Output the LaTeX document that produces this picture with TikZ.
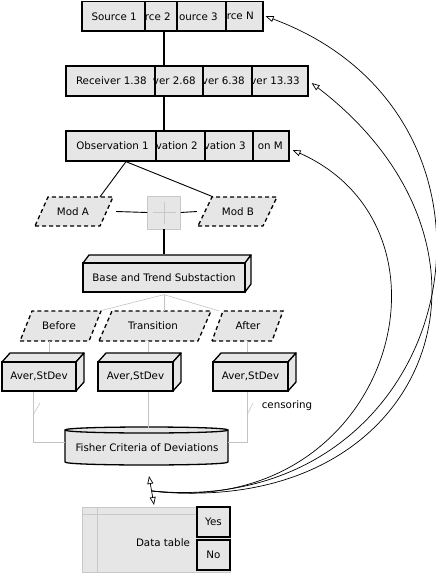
\documentclass[tikz,border=0pt]{standalone}
\usepackage{fontspec}
\setmainfont{DejaVu Sans}
\usetikzlibrary{arrows.meta}
\definecolor{boxfill}{RGB}{230,230,230}
\definecolor{thinline}{RGB}{195,195,195}
\definecolor{tableline}{RGB}{200,200,200}
\definecolor{plusline}{RGB}{200,200,200}
\tikzset{
  txt/.style={font=\fontsize{10.3}{12}\selectfont, inner sep=0pt, text=black},
  cellbox/.style={draw=black, line width=1.3pt, fill=boxfill, inner sep=0pt, rectangle},
  dashpara/.style={draw=black, line width=1.3pt, fill=boxfill, dash pattern=on 4pt off 3pt},
  cubeface/.style={draw=black, line width=1.3pt, fill=boxfill, line join=round},
  conn/.style={draw=black, line width=1.3pt},
  thinconn/.style={draw=thinline, line width=0.6pt},
  curvearrow/.style={draw=black, line width=0.7pt, -{Triangle[open,length=8pt,width=6pt]}},
}
\newcommand\mycell[7]{%
  \node[cellbox, minimum width={#3-#2}, minimum height={#5-#4}] (#1) at ({(#2+#3)/2},{(#4+#5)/2}) {};
  \node[txt, anchor=east] (#1t) at (#7,{(#4+#5)/2}) {#6};
}
\newcommand\mycube[8]{%
  \path[cubeface] (#2,#4) -- ({#2+#6},{#4-#7}) -- ({#3+#6},{#4-#7}) -- (#3,#4) -- cycle;
  \path[cubeface] (#3,#4) -- ({#3+#6},{#4-#7}) -- ({#3+#6},{#5-#7}) -- (#3,#5) -- cycle;
  \node[cellbox, minimum width={#3-#2}, minimum height={#5-#4}] (#1) at ({(#2+#3)/2},{(#4+#5)/2}) {};
  \node[txt] (#1t) at (#1) {#8};
}
% name, xBL, xBR, yTop, yBot, slant, text, textx
\newcommand\mypara[8]{%
  \path[dashpara] (#2,#5) -- (#3,#5) -- ({#3+#6},#4) -- ({#2+#6},#4) -- cycle;
  \node[txt, minimum width={#3+#6-#2}, minimum height={#5-#4}] (#1) at ({(#2+#3+#6)/2},{(#4+#5)/2}) {};
  \node[txt] (#1t) at (#8,{(#4+#5)/2}) {#7};
}
\begin{document}
\begin{tikzpicture}[x=1pt,y=-1pt]
\useasboundingbox (0,0) rectangle (436,573);
\coordinate (spine) at (164,0);

% Source row
\mycell{src1}{82}{145}{1.5}{31}{Source 1}{137}
\mycell{src2}{145}{177}{1.5}{31}{rce 2}{171}
\mycell{src3}{177}{226}{1.5}{31}{ource 3}{218}
\mycell{srcN}{226}{263}{1.5}{31}{rce N}{254}

% Receiver row
\mycell{rec1}{66}{155}{66}{96}{Receiver 1.38}{147}
\mycell{rec2}{155}{203}{66}{96}{ver 2.68}{196}
\mycell{rec3}{203}{252}{66}{96}{ver 6.38}{245}
\mycell{rec4}{252}{308}{66}{96}{ver 13.33}{300}

% Observation row
\mycell{obs1}{66}{156}{131}{161}{Observation 1}{149}
\mycell{obs2}{156}{205}{131}{161}{vation 2}{198}
\mycell{obs3}{205}{253}{131}{161}{vation 3}{246}
\mycell{obs4}{253}{289}{131}{161}{on M}{283}

\draw[conn] (src2.south -| spine) -- (rec2.north -| spine);
\draw[conn] (rec2.south -| spine) -- (obs2.north -| spine);

% Mods
\mypara{modA}{35}{100}{197}{226}{13}{Mod A}{73}
\mypara{modB}{198}{263}{197}{226}{14}{Mod B}{238}
\draw[line width=0.9pt] ([xshift=15pt]obs1.south) -- ([xshift=26pt]modA.north);
\draw[line width=0.9pt] ([xshift=15pt]obs1.south) -- ([xshift=-24.5pt]modB.north);

% plus junction
\node[draw=plusline, fill=boxfill, line width=0.5pt, minimum width=33pt, minimum height=33pt, inner sep=0pt] (plus) at (164,212.5) {};
\draw[plusline, line width=0.6pt] ([xshift=-11.5pt]plus.center) -- ([xshift=11.5pt]plus.center);
\draw[plusline, line width=0.6pt] ([yshift=-11pt]plus.center) -- ([yshift=11pt]plus.center);
\draw[line width=0.9pt] ([xshift=3pt]modA.east) -- (plus.west);
\draw[line width=0.9pt] (plus.east) -- ([xshift=-1pt]modB.west);

% Base and Trend
\mycube{base}{83}{245}{263}{292}{6}{8}{Base and Trend Substaction}
\draw[conn] (plus.south) -- ([yshift=8pt]base.north -| spine);

% phases
\mypara{before}{20}{89}{311}{341}{12}{Before}{59}
\mypara{trans}{99}{198}{311}{341}{13}{Transition}{153}
\mypara{after}{212}{272}{311}{341}{11}{After}{248}
\coordinate (bsplit) at ([yshift=-2pt]base.south -| spine);
\draw[thinconn] (bsplit) -- ([xshift=-1pt]before.north east);
\draw[thinconn] (bsplit) -- (trans.north -| spine);
\draw[thinconn] (bsplit) -- ([xshift=7pt]after.north west);

% Aver boxes
\mycube{av1}{2}{76}{362}{391}{8}{9}{Aver,StDev}
\mycube{av2}{98}{173}{362}{391}{8}{9}{Aver,StDev}
\mycube{av3}{213}{288}{362}{391}{8}{9}{Aver,StDev}
\draw[thinconn] (before.south -| 49,0) -- ([yshift=9pt]av1.north -| 49,0);
\draw[thinconn] (trans.south -| 148,0) -- ([yshift=9pt]av2.north -| 148,0);
\draw[thinconn] (after.south -| 247,0) -- ([yshift=9pt]av3.north -| 247,0);

% Fisher cylinder
\path[cubeface] (65,430) -- (65,462) .. controls (65,466) and (228,466) .. (228,462) -- (228,430) -- cycle;
\path[cubeface] (65,430) .. controls (65,426) and (228,426) .. (228,430) .. controls (228,434) and (65,434) .. (65,430) -- cycle;
\node[txt, minimum width=163pt, minimum height=38pt] (fisher) at (146.5,446) {};
\node[txt] (fishert) at (147,448) {Fisher Criteria of Deviations};

% lines into Fisher with switches
\draw[thinconn] (av1.south -| 33,0) -- (33,442) -- (fisher.west |- 0,442);
\draw[thinconn] (33,415) -- (40,403);
\draw[thinconn] (av2.south -| 148,0) -- ([yshift=-1pt]fisher.north -| 148,0);
\draw[thinconn] (av3.south -| 247,0) -- (247,442) -- (fisher.east |- 0,442);
\draw[thinconn] (247,415) -- (253,403);
\node[txt] (cens) at (287,406) {censoring};

% Data table
\node[draw=tableline, fill=boxfill, line width=0.6pt, minimum width=148pt, minimum height=65pt, inner sep=0pt] (table) at (156,539.5) {};
\draw[tableline, line width=0.6pt] (table.north west |- 0,514) -- (197,514);
\draw[tableline, line width=0.6pt] (97,507) -- (97,572);
\node[txt] (tablet) at (163,543) {Data table};
\node[cellbox, minimum width=33pt, minimum height=30pt] (yes) at (213.5,522) {};
\node[txt] (yest) at (yes) {Yes};
\node[cellbox, minimum width=33pt, minimum height=30pt] (no) at (213.5,555) {};
\node[txt] (not) at (no) {No};

% double arrow and curves
\coordinate (dtop) at (149,476);
\coordinate (dbot) at (154,505);
\coordinate (hub) at (152,491);
\draw[line width=0.7pt, {Triangle[open,length=8pt,width=6pt]}-{Triangle[open,length=8pt,width=6pt]}] (dtop) -- (dbot);
\draw[curvearrow] (hub) .. controls (460,520) and (545,120) .. ([xshift=2pt]srcN.east);
\draw[curvearrow] (hub) .. controls (430,520) and (530,250) .. ([xshift=3pt,yshift=-2pt]rec4.east);
\draw[curvearrow] (hub) .. controls (390,520) and (472,230) .. ([xshift=3pt,yshift=-4pt]obs4.east);
\end{tikzpicture}
\end{document}
